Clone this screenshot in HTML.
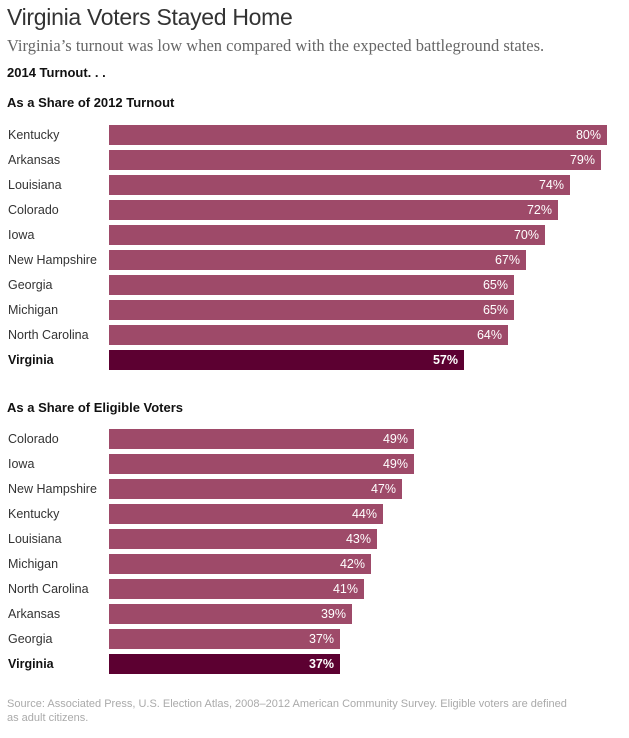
<!DOCTYPE html>
<html><head><meta charset="utf-8"><style>
body{margin:0;width:629px;height:738px;background:#fff;position:relative;overflow:hidden;font-family:"Liberation Sans",sans-serif}
.a{position:absolute;white-space:nowrap}
.t{left:7px;top:4px;font-size:23px;color:#333;font-weight:300;letter-spacing:-0.3px}
.s{left:7px;top:36px;font-family:"Liberation Serif",serif;font-size:16.5px;color:#666}
.h{left:7px;font-size:13px;font-weight:bold;color:#111}
.l{left:8px;font-size:12.5px;color:#333}
.b{left:109px;height:20px;background:#9e4a69;color:#fff;font-size:12.5px;text-align:right;line-height:20px;box-sizing:border-box;padding-right:6px}
.v{background:#5c0031;font-weight:bold}
.lv{font-weight:bold;color:#111}
.f{left:7px;top:697px;font-size:11px;color:#aaa;line-height:14px}
</style></head><body>
<div class="a t">Virginia Voters Stayed Home</div>
<div class="a s">Virginia’s turnout was low when compared with the expected battleground states.</div>
<div class="a h" style="top:65px">2014 Turnout. . .</div>
<div class="a h" style="top:95px">As a Share of 2012 Turnout</div>
<div class="a h" style="top:400px">As a Share of Eligible Voters</div>
<div id="c"></div>
<div class="a f">Source: Associated Press, U.S. Election Atlas, 2008–2012 American Community Survey. Eligible voters are defined<br>as adult citizens.</div>
<script>
var d1=[["Kentucky",80],["Arkansas",79],["Louisiana",74],["Colorado",72],["Iowa",70],["New Hampshire",67],["Georgia",65],["Michigan",65],["North Carolina",64],["Virginia",57]];
var d2=[["Colorado",49],["Iowa",49],["New Hampshire",47],["Kentucky",44],["Louisiana",43],["Michigan",42],["North Carolina",41],["Arkansas",39],["Georgia",37],["Virginia",37]];
var h="";
function r(d,y0){d.forEach(function(e,i){var y=y0+i*25,v=i==9;
h+='<div class="a l'+(v?' lv':'')+'" style="top:'+(y+3)+'px">'+e[0]+'</div>';
h+='<div class="a b'+(v?' v':'')+'" style="top:'+y+'px;width:'+Math.round(e[1]*6.23)+'px">'+e[1]+'%</div>';});}
r(d1,125);r(d2,429);
document.getElementById("c").innerHTML=h;
</script>
</body></html>
